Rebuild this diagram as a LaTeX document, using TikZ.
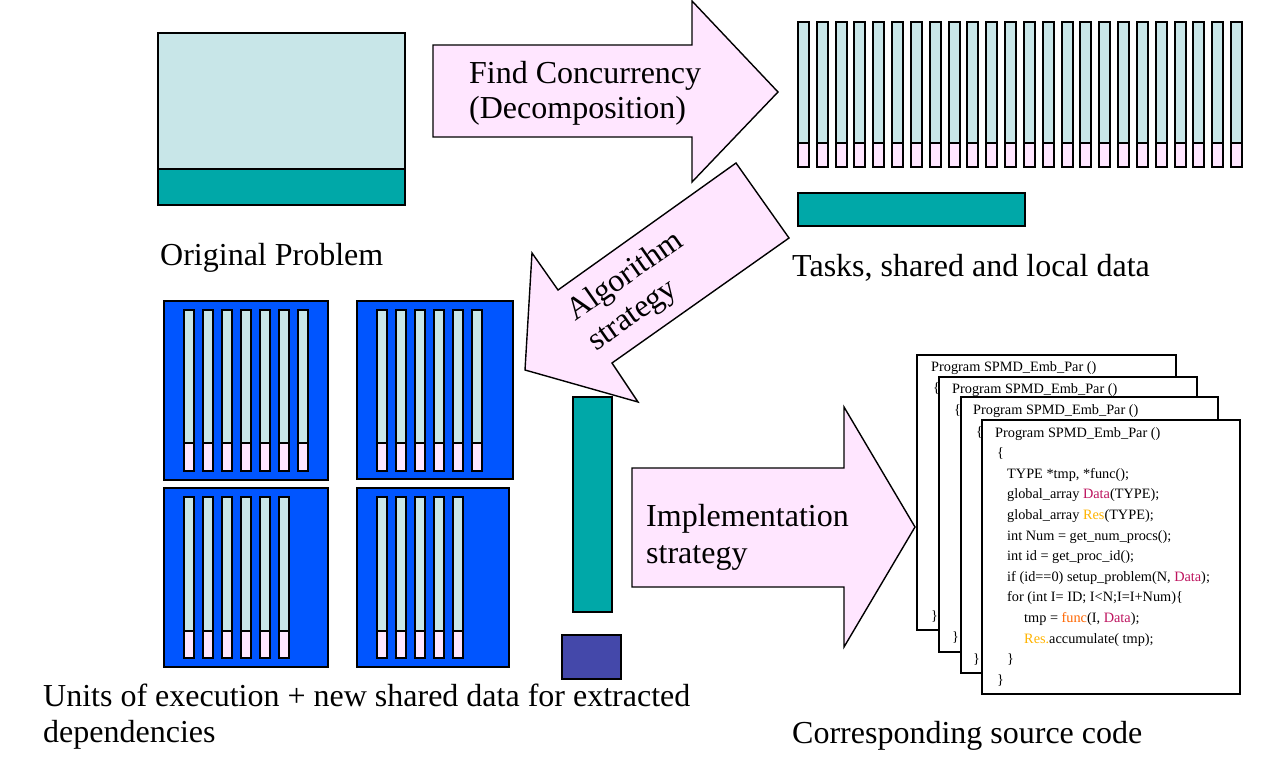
\documentclass[tikz,border=0pt]{standalone}
\usepackage{fontspec}
\setmainfont{Liberation Serif}
\definecolor{lcyan}{RGB}{200,230,232}
\definecolor{lpink}{RGB}{255,230,255}
\definecolor{teal}{RGB}{0,168,168}
\definecolor{ublue}{RGB}{0,85,255}
\definecolor{upurple}{RGB}{68,72,170}
\definecolor{datc}{RGB}{190,20,95}
\definecolor{resc}{RGB}{255,180,0}
\definecolor{func}{RGB}{255,102,0}
\begin{document}
\begin{tikzpicture}[x=1pt,y=-1pt,
  big/.style={font=\fontsize{32}{35}\selectfont, anchor=base west, inner sep=0pt},
  code/.style={font=\fontsize{14.3}{17}\selectfont, anchor=base west, inner sep=0pt},
  fatarrow/.style={fill=lpink, draw=black, line width=1.4pt, line join=miter},
  lightpart/.style={fill=lcyan, draw=black},
  pinkpart/.style={fill=lpink, draw=black},
  tealbox/.style={fill=teal, draw=black},
  block/.style={fill=ublue, draw=black, line width=1.5pt},
  codebox/.style={fill=white, draw=black}
]
\useasboundingbox (0,0) rectangle (1271,760);

% Original problem
\filldraw[lightpart, line width=1.5pt] (158,33) rectangle (405,169);
\filldraw[tealbox, line width=1.5pt] (158,169) rectangle (405,205);
\node[big] (orig) at (160,265) {Original Problem};

% Arrow 1
\draw[fatarrow] (433,45) -- (692,45) -- (692,1) -- (778,92) -- (692,182) -- (692,137) -- (433,137) -- cycle;
\node[big] (fc1) at (469,84) {Find Concurrency};
\node[big] (fc2) at (469,118) {(Decomposition)};

% Tasks bars
\foreach \i in {0,...,23} {
  \pgfmathtruncatemacro\xl{round(798+18.83*\i)}
  \filldraw[lightpart, line width=2.4pt] (\xl,22) rectangle (\xl+11,143);
  \filldraw[pinkpart, line width=2.4pt] (\xl,143) rectangle (\xl+11,167);
}
\filldraw[tealbox, line width=2.2pt] (798,193) rectangle (1025,226);
\node[big] (tasks) at (792,276) {Tasks, shared and local data};

% Arrow 2
\draw[fatarrow] (736,163) -- (789,238) -- (612,363) -- (638,402) -- (525,370) -- (532,253) -- (558,290) -- cycle;
\node[font=\fontsize{32}{36}\selectfont, align=left, rotate=35, inner sep=0pt] (alg) at (636,292) {Algorithm\\strategy};

% Blue blocks
\filldraw[block] (164,301) rectangle (328,480);
\filldraw[block] (357,301) rectangle (513,479);
\filldraw[block] (164,488) rectangle (328,667);
\filldraw[block] (357,488) rectangle (509,667);
\foreach \x/\yt/\yb/\ye/\n in {184/310/443/471/6, 377/310/443/471/5, 184/497/631/658/5, 377/497/631/658/4} {
  \foreach \i in {0,...,\n} {
    \pgfmathtruncatemacro\xl{\x+19*\i}
    \filldraw[lightpart, line width=1.9pt] (\xl,\yt) rectangle (\xl+10,\yb);
    \filldraw[pinkpart, line width=1.9pt] (\xl,\yb) rectangle (\xl+10,\ye);
  }
}
\node[big] (units1) at (43,706) {Units of execution + new shared data for extracted};
\node[big] (units2) at (43,742) {dependencies};

% Shared data
\filldraw[tealbox, line width=1.6pt] (573,397) rectangle (612,612);
\filldraw[fill=upurple, draw=black, line width=1.6pt] (562,635) rectangle (621,679);

% Arrow 3
\draw[fatarrow] (632,468) -- (844,468) -- (844,407) -- (915,527) -- (844,647) -- (844,587) -- (632,587) -- cycle;
\node[big] (impl1) at (646,526) {Implementation};
\node[big] (impl2) at (646,563) {strategy};

% Code boxes
\filldraw[codebox, line width=1.1pt] (917,355) rectangle (1176,630);
\node[code] (p1) at (931,371) {Program SPMD\_Emb\_Par ()};
\node[code] (o1) at (933,392) {\{};
\node[code] (c1) at (931,620) {\}};

\filldraw[codebox, line width=2.2pt] (939,377) rectangle (1197,652);
\node[code] (p2) at (952,393) {Program SPMD\_Emb\_Par ()};
\node[code] (o2) at (954,414) {\{};
\node[code] (c2) at (952,641) {\}};

\filldraw[codebox, line width=1.1pt] (961,397) rectangle (1218,673);
\node[code] (p3) at (973,414) {Program SPMD\_Emb\_Par ()};
\node[code] (o3) at (976,436) {\{};
\node[code] (c3) at (973,663) {\}};

\filldraw[codebox, line width=2.2pt] (982,420) rectangle (1240,694);
\node[code] (l0) at (995,437) {Program SPMD\_Emb\_Par ()};
\node[code] (l1) at (997,457.6) {\{};
\node[code] (l2) at (1007,478.2) {TYPE *tmp, *func();};
\node[code] (l3) at (1007,498.8) {global\_array \textcolor{datc}{Data}(TYPE);};
\node[code] (l4) at (1007,519.4) {global\_array \textcolor{resc}{Res}(TYPE);};
\node[code] (l5) at (1007,540) {int Num = get\_num\_procs();};
\node[code] (l6) at (1007,560.6) {int id = get\_proc\_id();};
\node[code] (l7) at (1007,581.2) {if (id==0) setup\_problem(N, \textcolor{datc}{Data});};
\node[code] (l8) at (1007,601.8) {for (int I= ID; I<N;I=I+Num)\{};
\node[code] (l9) at (1024,622.4) {tmp = \textcolor{func}{func}(I, \textcolor{datc}{Data});};
\node[code] (l10) at (1024,643) {\textcolor{resc}{Res.}accumulate( tmp);};
\node[code] (l11) at (1007,663.6) {\}};
\node[code] (l12) at (997,684.2) {\}};
\node[big] (src) at (792,743) {Corresponding source code};
\end{tikzpicture}
\end{document}
